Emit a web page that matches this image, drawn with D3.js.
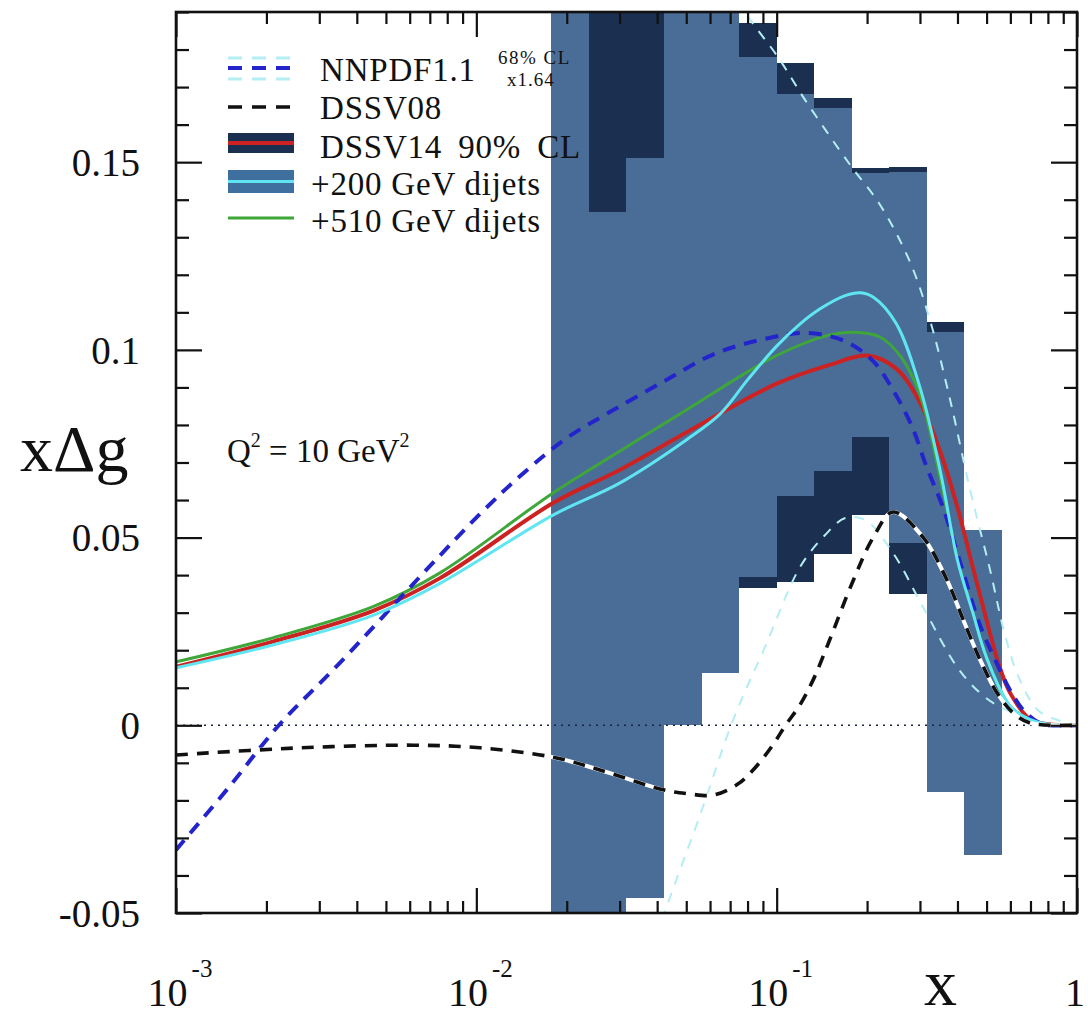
<!DOCTYPE html>
<html>
<head>
<meta charset="utf-8">
<script src="https://cdn.jsdelivr.net/npm/d3@7"></script>
<style>
  html, body { margin: 0; padding: 0; background: #fff; }
  svg { display: block; }
  text { font-family: "Liberation Serif", "Times New Roman", Times, serif; fill: #111; }
</style>
</head>
<body>
<svg id="chart" width="1088" height="1021"></svg>
<script>
// x bins (1/8 decade wide) used for the truncated-moment uncertainty bands
const binLo = [0.01778, 0.02371, 0.03162, 0.04217, 0.05623, 0.07499, 0.1, 0.1334, 0.1778, 0.2371, 0.3162, 0.4217];
const binHi = [0.02371, 0.03162, 0.04217, 0.05623, 0.07499, 0.1, 0.1334, 0.1778, 0.2371, 0.3162, 0.4217, 0.5623];

// DSSV14 90% CL band per bin
const dssv14Lo = [-0.065, -0.065, -0.0455, 0.0005, 0.0145, 0.0366, 0.0383, 0.0456, 0.056, 0.035, -0.0175, -0.033];
const dssv14Hi = [0.21, 0.23, 0.23, 0.21, 0.21, 0.1871, 0.1764, 0.1671, 0.1484, 0.1487, 0.1074, 0.050];

// band after adding the 200 GeV dijet data
const dijetLo = [-0.07, -0.07, -0.046, 0.0, 0.0139, 0.0395, 0.0611, 0.0678, 0.0768, 0.0486, -0.0178, -0.0345];
const dijetHi = [0.22, 0.1367, 0.1512, 0.22, 0.22, 0.178, 0.1682, 0.1644, 0.1471, 0.1473, 0.1048, 0.052];

// curves: [x, x*Delta g]
const dssv14 = [[0.001,0.0156],[0.0021,0.0223],[0.00453,0.0305],[0.00757,0.0392],[0.018,0.0592],[0.03,0.068],
  [0.05,0.078],[0.1,0.091],[0.15,0.096],[0.2,0.0985],[0.25,0.095],[0.3,0.086],[0.35,0.073],[0.4,0.058],
  [0.45,0.042],[0.5,0.028],[0.55,0.016],[0.6,0.0085],[0.7,0.0015],[0.8,0.0003],[1.0,0]];
const dijet510 = [[0.001,0.0169],[0.0021,0.0233],[0.00453,0.0316],[0.00757,0.0406],[0.018,0.0619],[0.03,0.073],
  [0.05,0.084],[0.1,0.0985],[0.15,0.104],[0.18,0.1047],[0.22,0.1035],[0.26,0.098],[0.3,0.088],[0.35,0.066],
  [0.4,0.044],[0.45,0.030],[0.5,0.018],[0.6,0.005],[0.7,0.0015],[0.8,0.0003],[1.0,0]];
const dijet200 = [[0.001,0.0153],[0.0021,0.0214],[0.00453,0.0293],[0.00757,0.0378],[0.018,0.056],[0.03,0.0645],
  [0.05,0.076],[0.065,0.083],[0.08,0.092],[0.1,0.101],[0.12,0.107],[0.14,0.111],[0.17,0.1145],[0.19,0.1152],
  [0.21,0.114],[0.25,0.107],[0.3,0.09],[0.35,0.068],[0.4,0.044],[0.45,0.030],[0.5,0.018],[0.6,0.005],
  [0.7,0.0015],[0.8,0.0003],[1.0,0]];
const nnpdf = [[0.001,-0.0332],[0.0015,-0.0165],[0.0022,0.0],[0.0035,0.0165],[0.0068,0.0413],[0.0105,0.057],
  [0.0145,0.0675],[0.02,0.0765],[0.0279,0.0835],[0.0419,0.0915],[0.0624,0.099],[0.0935,0.1031],[0.126,0.1045],
  [0.169,0.1023],[0.2095,0.097],[0.246,0.0888],[0.2825,0.0795],[0.315,0.069],[0.358,0.058],[0.411,0.0427],
  [0.475,0.0267],[0.538,0.0169],[0.598,0.0094],[0.667,0.0038],[0.766,0.0003],[1.0,0]];
const nnpdfUpper = [[0.07,0.198],[0.0785,0.19],[0.101,0.178],[0.1243,0.1666],[0.1755,0.1493],[0.2211,0.1386],
  [0.278,0.1234],[0.324,0.1079],[0.378,0.0867],[0.4406,0.0627],[0.5135,0.0414],[0.576,0.024],[0.646,0.012],
  [0.754,0.0035],[1.0,0.0001]];
const nnpdfLower = [[0.0379,-0.0615],[0.0425,-0.0495],[0.0556,-0.0239],[0.0716,0.0014],[0.0915,0.0209],
  [0.1197,0.0422],[0.145,0.0507],[0.169,0.0552],[0.197,0.0547],[0.244,0.0459],[0.307,0.0315],[0.399,0.0155],
  [0.4756,0.0086],[0.5547,0.0049],[0.754,0.0009],[1.0,0]];
const dssv08 = [[0.001,-0.0079],[0.0026,-0.006],[0.0062,-0.0053],[0.0103,-0.006],[0.018,-0.0085],[0.0258,-0.0119],
  [0.0419,-0.0172],[0.0504,-0.0182],[0.0614,-0.0186],[0.0738,-0.0158],[0.0833,-0.012],[0.0966,-0.0055],
  [0.107,0.0],[0.1197,0.0055],[0.133,0.0125],[0.148,0.0215],[0.1797,0.0385],[0.2095,0.050],[0.244,0.0568],
  [0.307,0.0501],[0.369,0.0387],[0.418,0.0281],[0.476,0.0174],[0.542,0.0086],[0.613,0.0033],[0.698,0.0006],[1.0,0]];

// axis ticks
const xMajor = [0.001, 0.01, 0.1, 1];
const xLabelBase = ["10", "10", "10", "1"];
const xLabelExp = ["-3", "-2", "-1", ""];
const xMinor = [0.002,0.003,0.004,0.005,0.006,0.007,0.008,0.009,0.02,0.03,0.04,0.05,0.06,0.07,0.08,0.09,
  0.2,0.3,0.4,0.5,0.6,0.7,0.8,0.9];
const yMajor = [-0.05, 0, 0.05, 0.1, 0.15];
const yLabels = ["-0.05", "0", "0.05", "0.1", "0.15"];
const yMinor = [-0.04,-0.03,-0.02,-0.01,0.01,0.02,0.03,0.04,0.06,0.07,0.08,0.09,0.11,0.12,0.13,0.14,0.16,0.17,0.18,0.19];

const C = {
  light: "#4a6d98", dark: "#1b3050", red: "#cc2222", green: "#3fa63a", cyan: "#5fe6f2",
  blue: "#2424cc", band: "#b4eef2", black: "#111"
};

const L = 176, R = 1077, T = 12, B = 913;
const xs = d3.scaleLog().domain([1e-3, 1]).range([L, R]);
const ys = d3.scaleLinear().domain([-0.05, 0.19]).range([B, T]);

const svg = d3.select("#chart");
svg.append("defs").append("clipPath").attr("id", "plotClip")
  .append("rect").attr("x", L).attr("y", T).attr("width", R - L).attr("height", B - T);
const plot = svg.append("g").attr("clip-path", "url(#plotClip)");

// bands: DSSV14 first, the dijet-constrained band over it
const bins = binLo.map((lo, i) => ({lo, hi: binHi[i], dLo: dssv14Lo[i], dHi: dssv14Hi[i], jLo: dijetLo[i], jHi: dijetHi[i]}));
plot.selectAll("rect.dssv14").data(bins).join("rect").attr("class", "dssv14")
  .attr("x", d => xs(d.lo)).attr("width", d => xs(d.hi) - xs(d.lo))
  .attr("y", d => ys(d.dHi)).attr("height", d => ys(d.dLo) - ys(d.dHi))
  .attr("fill", C.dark).attr("shape-rendering", "crispEdges");
plot.selectAll("rect.dijet").data(bins).join("rect").attr("class", "dijet")
  .attr("x", d => xs(d.lo)).attr("width", d => xs(d.hi) - xs(d.lo))
  .attr("y", d => ys(d.jHi)).attr("height", d => ys(d.jLo) - ys(d.jHi))
  .attr("fill", C.light).attr("shape-rendering", "crispEdges");

// zero line
plot.append("line").attr("x1", L).attr("x2", R).attr("y1", ys(0)).attr("y2", ys(0))
  .attr("stroke", "#1a2340").attr("stroke-width", 1.6).attr("stroke-dasharray", "2,5");

const line = d3.line().x(d => xs(d[0])).y(d => ys(d[1])).curve(d3.curveCatmullRom.alpha(0.5));
function curve(data, color, width, dash) {
  const p = plot.append("path").datum(data).attr("d", line).attr("fill", "none")
    .attr("stroke", color).attr("stroke-width", width).attr("stroke-linejoin", "round");
  if (dash) p.attr("stroke-dasharray", dash);
  return p;
}

curve(nnpdfUpper, C.band, 2, "10,9");
curve(nnpdfLower, C.band, 2, "10,9");
curve(dssv14, C.red, 4);
curve(dijet510, C.green, 3);
curve(nnpdf, C.blue, 4, "13,9");
curve(dijet200, C.cyan, 3);
curve(dssv08, "#ffffff", 4);
curve(dssv08, C.black, 3.6, "12,9");

// axes with inward ticks
const axes = svg.append("g");
function styleAxis(g) {
  g.select(".domain").remove();
  g.selectAll(".tick line").attr("stroke", "#111").attr("stroke-width", 2.2);
}
axes.append("g").attr("transform", `translate(${L},0)`)
  .call(d3.axisLeft(ys).tickValues(yMajor).tickSize(-26).tickPadding(36).tickFormat((d, i) => yLabels[i]))
  .call(styleAxis)
  .call(g => g.selectAll("text").attr("font-size", 39).attr("fill", "#111")
    .attr("font-family", '"Liberation Serif", "Times New Roman", serif').attr("dy", "0.34em"));
axes.append("g").attr("transform", `translate(${L},0)`)
  .call(d3.axisLeft(ys).tickValues(yMinor).tickSize(-13).tickFormat("")).call(styleAxis);
axes.append("g").attr("transform", `translate(${R},0)`)
  .call(d3.axisRight(ys).tickValues(yMajor).tickSize(-26).tickFormat("")).call(styleAxis);
axes.append("g").attr("transform", `translate(${R},0)`)
  .call(d3.axisRight(ys).tickValues(yMinor).tickSize(-13).tickFormat("")).call(styleAxis);
axes.append("g").attr("transform", `translate(0,${B})`)
  .call(d3.axisBottom(xs).tickValues(xMajor).tickSize(-25).tickFormat("")).call(styleAxis);
axes.append("g").attr("transform", `translate(0,${B})`)
  .call(d3.axisBottom(xs).tickValues(xMinor).tickSize(-12).tickFormat("")).call(styleAxis);
axes.append("g").attr("transform", `translate(0,${T})`)
  .call(d3.axisTop(xs).tickValues(xMajor).tickSize(-25).tickFormat("")).call(styleAxis);
axes.append("g").attr("transform", `translate(0,${T})`)
  .call(d3.axisTop(xs).tickValues(xMinor).tickSize(-12).tickFormat("")).call(styleAxis);

svg.append("rect").attr("x", L).attr("y", T).attr("width", R - L).attr("height", B - T)
  .attr("fill", "none").attr("stroke", "#111").attr("stroke-width", 2.6);

// x tick labels with exponents
xMajor.forEach((v, i) => {
  const t = svg.append("text").attr("x", xs(v) + (xLabelExp[i] ? 4 : -2)).attr("y", 1006)
    .attr("text-anchor", "middle").attr("font-size", 40);
  t.append("tspan").text(xLabelBase[i]);
  if (xLabelExp[i]) {
    t.append("tspan").attr("font-size", 25).attr("dx", 4).attr("dy", -29).text(xLabelExp[i]);
  }
});

// axis titles
svg.append("text").attr("x", 20).attr("y", 471).attr("font-size", 66).text("x\u0394g");
svg.append("text").attr("x", 924).attr("y", 1005).attr("font-size", 66).text("x");

// Q^2 annotation
const q = svg.append("text").attr("x", 227).attr("y", 462).attr("font-size", 33);
q.append("tspan").text("Q");
q.append("tspan").attr("font-size", 20).attr("dy", -15).text("2");
q.append("tspan").attr("dy", 15).text(" = 10 GeV");
q.append("tspan").attr("font-size", 20).attr("dy", -15).text("2");

// legend
const lg = svg.append("g");
const sx0 = 228, sx1 = 294;
function legLine(y, color, width, dash) {
  const l = lg.append("line").attr("x1", sx0).attr("x2", sx1).attr("y1", y).attr("y2", y)
    .attr("stroke", color).attr("stroke-width", width);
  if (dash) l.attr("stroke-dasharray", dash);
}
function legText(x, y, s, extra) {
  const t = lg.append("text").attr("x", x).attr("y", y).attr("font-size", 33).attr("letter-spacing", 0.8).text(s);
  if (extra) extra(t);
  return t;
}
legLine(58, C.band, 3, "14,10");
legLine(68, C.blue, 4, "14,10");
legLine(79, C.band, 3, "14,10");
legText(320, 81, "NNPDF1.1");
lg.append("text").attr("x", 498).attr("y", 63.5).attr("font-size", 19).attr("letter-spacing", 1.5).text("68% CL");
lg.append("text").attr("x", 507).attr("y", 85.5).attr("font-size", 19).attr("letter-spacing", 1).text("x1.64");

legLine(107, C.black, 3.6, "14,10");
legText(320, 119, "DSSV08");

lg.append("rect").attr("x", sx0).attr("y", 133).attr("width", sx1 - sx0).attr("height", 20).attr("fill", C.dark);
legLine(143, C.red, 4);
legText(320, 158, "DSSV14 90% CL", t => t.attr("word-spacing", 7));

lg.append("rect").attr("x", sx0).attr("y", 170).attr("width", sx1 - sx0).attr("height", 23).attr("fill", "#3f6f9f");
legLine(181.5, C.cyan, 3);
legText(311, 195, "+200 GeV dijets");

legLine(218, C.green, 3);
legText(311, 232, "+510 GeV dijets");
</script>
</body>
</html>
